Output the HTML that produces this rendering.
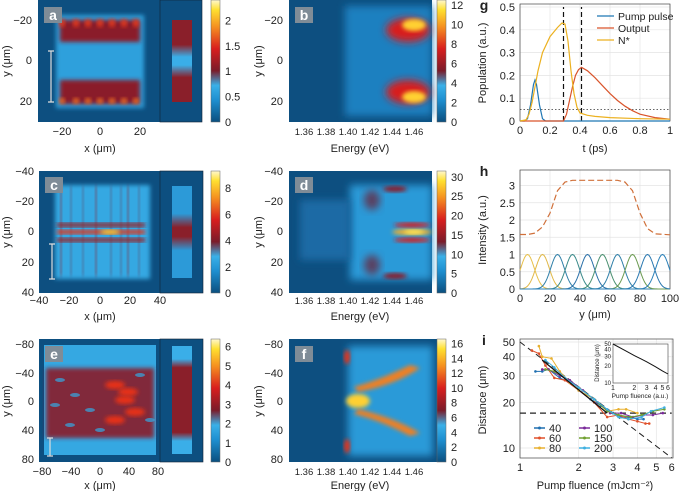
<!DOCTYPE html>
<html><head><meta charset="utf-8"><style>
body{margin:0;background:#fff}
svg{display:block;font-family:"Liberation Sans",sans-serif}
text{fill:#222}
</style></head><body>
<svg id="s" width="679" height="491" viewBox="0 0 679 491">
<defs>
<linearGradient id="cb" x1="0" y1="1" x2="0" y2="0">
<stop offset="0" stop-color="#0b4f7f"/><stop offset="0.18" stop-color="#1e8fd0"/><stop offset="0.3" stop-color="#3ab0e8"/>
<stop offset="0.42" stop-color="#7a1c2a"/><stop offset="0.6" stop-color="#d81e1e"/><stop offset="0.78" stop-color="#f59020"/>
<stop offset="0.92" stop-color="#ffe030"/><stop offset="1" stop-color="#fff8d0"/></linearGradient>
<linearGradient id="stripA" x1="0" y1="0" x2="0" y2="1"><stop offset="0" stop-color="#8a1f2a"/><stop offset="0.3" stop-color="#8a1f2a"/><stop offset="0.45" stop-color="#3aaee8"/><stop offset="0.55" stop-color="#3aaee8"/><stop offset="0.7" stop-color="#8a1f2a"/><stop offset="1" stop-color="#8a1f2a"/></linearGradient>
<linearGradient id="stripC" x1="0" y1="0" x2="0" y2="1"><stop offset="0" stop-color="#2c9ad8"/><stop offset="0.3" stop-color="#2c9ad8"/><stop offset="0.45" stop-color="#8a1f2a"/><stop offset="0.55" stop-color="#8a1f2a"/><stop offset="0.7" stop-color="#2c9ad8"/><stop offset="1" stop-color="#2c9ad8"/></linearGradient>
<linearGradient id="stripE" x1="0" y1="0" x2="0" y2="1"><stop offset="0" stop-color="#3aaee8"/><stop offset="0.12" stop-color="#3aaee8"/><stop offset="0.2" stop-color="#8a1f2a"/><stop offset="0.8" stop-color="#8a1f2a"/><stop offset="0.88" stop-color="#3aaee8"/><stop offset="1" stop-color="#3aaee8"/></linearGradient>
<filter id="bl" x="-20%" y="-20%" width="140%" height="140%"><feGaussianBlur stdDeviation="2"/></filter>
<filter id="bl4" x="-30%" y="-30%" width="160%" height="160%"><feGaussianBlur stdDeviation="4"/></filter>
</defs>
<g id="maps"></g><g id="gg"></g><g id="hh"></g><g id="ii"></g>
</svg>
<script>
// ---------- data for g ----------
const pumpT=[0,0.03,0.05,0.07,0.09,0.1,0.11,0.13,0.15,0.17,0.3,1];
const pumpV=[0,0,0.01,0.07,0.16,0.18,0.16,0.07,0.01,0,0,0];
const outT=[0,0.29,0.31,0.33,0.35,0.37,0.39,0.41,0.45,0.5,0.55,0.6,0.65,0.7,0.75,0.8,0.9,1];
const outV=[0,0,0.03,0.09,0.15,0.2,0.225,0.235,0.22,0.19,0.155,0.12,0.09,0.065,0.045,0.03,0.015,0.008];
const nT=[0,0.04,0.06,0.08,0.1,0.12,0.15,0.2,0.25,0.28,0.3,0.32,0.34,0.36,0.38,0.4,0.45,0.5,0.6,0.8,1];
const nV=[0,0.005,0.03,0.08,0.15,0.22,0.3,0.37,0.41,0.43,0.425,0.35,0.22,0.12,0.06,0.035,0.025,0.02,0.015,0.01,0.008];
const gXTicks=[0,0.2,0.4,0.6,0.8,1];
const gYTicks=[0,0.1,0.2,0.3,0.4,0.5];
// ---------- data for h ----------
const hCenters=[5,15,25,35,45,55,65,75,85,95];
const hPeaks=[1,1,1,1,1,1,1,1,1,1];
const hSumY=[0,5,10,15,20,25,30,35,65,70,75,80,85,90,100];
const hSumV=[1.58,1.58,1.62,1.8,2.2,2.85,3.1,3.15,3.15,3.1,2.85,2.2,1.75,1.6,1.57];
const hXTicks=[0,20,40,60,80,100];
const hYTicks=[0,0.5,1,1.5,2,2.5,3];
// ---------- data for i ----------
const iLabels=["40","60","80","100","150","200"];
const iF40=[1.2,1.3,1.4,1.6,1.8,2,2.3,2.6,3,3.3,3.6,4,4.3], iD40=[32,32,33,29,27,24,21,19,17,16,16,15.5,15.5];
const iF60=[1.15,1.25,1.35,1.5,1.7,2,2.4,2.8,3.2,3.6,4,4.4,4.6], iD60=[44,42,35,29,28,24,20,16,16.5,15.5,15,14.5,14.5];
const iF80=[1.25,1.3,1.45,1.6,1.8,2,2.4,2.8,3.2,3.5,4], iD80=[47,40,39,32,27,24,21,17.5,18,18,17];
const iF100=[1.3,1.4,1.6,1.8,2.1,2.5,2.9,3.3,3.8,4.3,4.8,5.4], iD100=[33,33,30,28,24,20,17,17,16,16.5,16.5,17];
const iF150=[1.35,1.5,1.7,2,2.4,2.8,3.2,3.7,4.2,4.8,5.5], iD150=[33,32,29,25,21,17.5,16.5,16,16.5,17.5,18];
const iF200=[1.35,1.5,1.7,2,2.4,2.8,3.2,3.6,4.2,4.7,5.5], iD200=[38,34,29,25,21,18,16,15.5,16,17.5,18.5];
const iFitF=[1.3,2.8], iFitD=[38,17];
const iXTicks=[1,2,3,4,5,6];
const iYTicks=[10,20,30,40,50];
const insetF=[1,1.5,2,2.5,3,4,5,6], insetD=[50,38,31,27,24,19.5,16.5,14.5];

const NS="http://www.w3.org/2000/svg";
function mk(p,tag,at,txt){const e=document.createElementNS(NS,tag);for(const k in at)e.setAttribute(k,at[k]);if(txt!==undefined)e.textContent=txt;p.appendChild(e);return e;}
function T(p,x,y,s,o){o=o||{};const e=mk(p,"text",{x:x,y:y,"font-size":o.fs||11,"text-anchor":o.a||"middle"},s);if(o.r)e.setAttribute("transform","rotate(-90 "+x+" "+y+")");if(o.it)e.setAttribute("font-style","italic");return e;}
const M=document.getElementById("maps");

function frame(x0,y0,x1,y1,name){const r=mk(M,"rect",{x:x0,y:y0,width:x1-x0,height:y1-y0,fill:"#0d4f80"});}
function cbar(x,y0,y1,ticks,vmax,name){const g=mk(M,"g",{});
 mk(g,"rect",{x:x,y:y0,width:9,height:y1-y0,fill:"url(#cb)",stroke:"#666","stroke-width":0.5});
 ticks.forEach(t=>{const y=y1-(y1-y0)*t/vmax;T(g,x+14,y+4,String(t),{a:"start"});});}
function plabel(x,y,s){const g=mk(M,"g",{});
 mk(g,"rect",{x:x,y:y,width:18,height:16,fill:"#7f8c97"});const t=T(g,x+9,y+13,s,{fs:14});t.setAttribute("font-weight","bold");t.style.fill="#fff";}
function axisTicks(list,pos,y,o){list.forEach((t,i)=>T(M,pos[i],y,t,o));}
const eT=["1.36","1.38","1.40","1.42","1.44","1.46"], eX=[304,326,348,370,392,414];
function eTicks(y){eT.forEach((t,i)=>T(M,eX[i],y,t,{fs:9.5}));}

// Panel a
frame(38,0,202,122,"map-a");
mk(M,"rect",{x:56,y:15,width:88,height:93,fill:"#2fa0dc",filter:"url(#bl)"});
mk(M,"rect",{x:60,y:20,width:80,height:22,fill:"#8a1f2a",filter:"url(#bl)"});
mk(M,"rect",{x:60,y:80,width:80,height:24,fill:"#8a1f2a",filter:"url(#bl)"});
[62,76,88,100,112,124,136].forEach(x=>{mk(M,"ellipse",{cx:x,cy:23,rx:3,ry:4,fill:"#e83a1a",filter:"url(#bl)"});mk(M,"ellipse",{cx:x,cy:101,rx:3,ry:3,fill:"#f07020",filter:"url(#bl)"});});
mk(M,"rect",{x:160,y:0,width:42,height:122,fill:"#0d4f80",stroke:"#123","stroke-width":0.6});
mk(M,"rect",{x:172,y:20,width:20,height:82,fill:"url(#stripA)"});
mk(M,"path",{d:"M48 51h6M51 51v51M48 102h6",stroke:"#ddd",fill:"none","stroke-width":1.2});
plabel(44,7,"a");
cbar(211,0,122,[0,0.5,1,1.5,2],2.4,"colorbar-a");
axisTicks(["−20","0","20"],[62,100,140],135,{});
[["−20",24],["0",64],["20",105]].forEach(a=>T(M,32,a[1],a[0],{a:"end"}));
T(M,100,152,"x (μm)",{});T(M,10,61,"y (μm)",{r:1});

// Panel b
frame(289,0,432,122,"map-b");
mk(M,"rect",{x:345,y:6,width:87,height:110,fill:"#1e80c0",filter:"url(#bl4)"});
mk(M,"ellipse",{cx:408,cy:30,rx:22,ry:12,fill:"#d81e1e",filter:"url(#bl4)"});
mk(M,"ellipse",{cx:408,cy:92,rx:22,ry:12,fill:"#d81e1e",filter:"url(#bl4)"});
mk(M,"ellipse",{cx:414,cy:25,rx:12,ry:6,fill:"#ffd030",filter:"url(#bl)"});
mk(M,"ellipse",{cx:414,cy:97,rx:12,ry:6,fill:"#ffd030",filter:"url(#bl)"});
plabel(295,7,"b");
cbar(437,0,122,[0,2,4,6,8,10,12],12.5,"colorbar-b");
[["−20",24],["0",64],["20",105]].forEach(a=>T(M,283,a[1],a[0],{a:"end"}));
eTicks(135);
T(M,360,152,"Energy (eV)",{});T(M,262,61,"y (μm)",{r:1});

// Panel c
frame(39,171,203,293,"map-c");
mk(M,"rect",{x:55,y:185,width:95,height:94,fill:"#35a8e2",filter:"url(#bl)"});
[60,70,82,95,110,120,127,138].forEach((x,i)=>mk(M,"rect",{x:x,y:186,width:2,height:90,fill:i%3==0?"#8a1f2a":"#5a4a70",opacity:0.7,filter:"url(#bl)"}));
[225,232,240].forEach((y,i)=>mk(M,"rect",{x:57,y:y-2,width:88,height:4,fill:i==1?"#e83018":"#9a1e22",filter:"url(#bl)"}));
mk(M,"ellipse",{cx:110,cy:232,rx:10,ry:2,fill:"#ffe030",filter:"url(#bl)"});
mk(M,"rect",{x:160,y:171,width:43,height:122,fill:"#0d4f80",stroke:"#123","stroke-width":0.6});
mk(M,"rect",{x:172,y:186,width:20,height:92,fill:"url(#stripC)"});
mk(M,"path",{d:"M49 244h6M52 244v35M49 279h6",stroke:"#ddd",fill:"none","stroke-width":1.2});
plabel(45,177,"c");
cbar(211,171,293,[0,2,4,6,8],9.3,"colorbar-c");
[["−40",175],["−20",205],["0",235],["20",266],["40",296]].forEach(a=>T(M,34,a[1],a[0],{a:"end"}));
axisTicks(["−40","−20","0","20","40"],[39,69,100,130,160],304,{});
T(M,100,320,"x (μm)",{});T(M,10,232,"y (μm)",{r:1});

// Panel d
frame(289,171,432,293,"map-d");
mk(M,"rect",{x:350,y:185,width:82,height:95,fill:"#2a9ad8",filter:"url(#bl4)"});
mk(M,"rect",{x:300,y:200,width:50,height:60,fill:"#1a6aa5",filter:"url(#bl4)"});
mk(M,"ellipse",{cx:395,cy:189,rx:12,ry:3,fill:"#8a1f2a",filter:"url(#bl)"});
mk(M,"ellipse",{cx:395,cy:276,rx:12,ry:3,fill:"#8a1f2a",filter:"url(#bl)"});
mk(M,"ellipse",{cx:372,cy:200,rx:8,ry:10,fill:"#5a4060",filter:"url(#bl4)"});
mk(M,"ellipse",{cx:372,cy:265,rx:8,ry:10,fill:"#5a4060",filter:"url(#bl4)"});
[225,240].forEach(y=>mk(M,"ellipse",{cx:412,cy:y,rx:18,ry:2.5,fill:"#d81e1e",filter:"url(#bl)"}));
mk(M,"ellipse",{cx:412,cy:232,rx:20,ry:3,fill:"#ffb020",filter:"url(#bl)"});
mk(M,"ellipse",{cx:414,cy:232,rx:10,ry:2,fill:"#fff060",filter:"url(#bl)"});
plabel(295,177,"d");
cbar(437,171,293,[0,5,10,15,20,25,30],31.5,"colorbar-d");
[["−40",175],["−20",205],["0",235],["20",266],["40",296]].forEach(a=>T(M,283,a[1],a[0],{a:"end"}));
eTicks(304);
T(M,360,320,"Energy (eV)",{});T(M,262,232,"y (μm)",{r:1});

// Panel e
frame(39,339,203,462,"map-e");
mk(M,"rect",{x:44,y:345,width:112,height:110,fill:"#35a8e2"});
mk(M,"rect",{x:46,y:368,width:108,height:70,fill:"#8a1f2a",opacity:0.9,filter:"url(#bl)"});
[[60,380],[75,395],[90,410],[70,425],[140,375],[150,420],[55,405],[100,430]].forEach(p=>mk(M,"ellipse",{cx:p[0],cy:p[1],rx:5,ry:2,fill:"#35a8e2",opacity:0.7}));
[[115,385],[125,400],[115,420],[135,412],[128,392]].forEach(p=>mk(M,"ellipse",{cx:p[0],cy:p[1],rx:10,ry:4,fill:"#e83018",filter:"url(#bl)"}));
mk(M,"rect",{x:160,y:339,width:43,height:123,fill:"#0d4f80",stroke:"#123","stroke-width":0.6});
mk(M,"rect",{x:172,y:346,width:20,height:108,fill:"url(#stripE)"});
mk(M,"path",{d:"M47 438h6M50 438v18M47 456h6",stroke:"#ddd",fill:"none","stroke-width":1.2});
plabel(45,346,"e");
cbar(211,339,462,[0,1,2,3,4,5,6],6.4,"colorbar-e");
[["−80",348],["−40",377],["0",405],["40",434],["80",463]].forEach(a=>T(M,34,a[1],a[0],{a:"end"}));
axisTicks(["−80","−40","0","40","80"],[42,71,100,129,158],475,{});
T(M,100,489,"x (μm)",{});T(M,10,401,"y (μm)",{r:1});

// Panel f
frame(289,339,437,462,"map-f");
mk(M,"rect",{x:348,y:346,width:85,height:110,fill:"#2a9ad8",filter:"url(#bl4)"});
mk(M,"ellipse",{cx:347,cy:357,rx:3,ry:7,fill:"#e83018",filter:"url(#bl)"});
mk(M,"ellipse",{cx:347,cy:446,rx:3,ry:7,fill:"#e83018",filter:"url(#bl)"});
mk(M,"ellipse",{cx:358,cy:401,rx:12,ry:7,fill:"#ffd030",filter:"url(#bl)"});
mk(M,"path",{d:"M354 387 Q380 380 410 365 L420 368 Q395 385 358 392Z",fill:"#f08020",filter:"url(#bl)"});
mk(M,"path",{d:"M354 414 Q380 420 410 436 L420 433 Q395 418 358 409Z",fill:"#f08020",filter:"url(#bl)"});
plabel(295,346,"f");
cbar(437,339,462,[0,2,4,6,8,10,12,14,16],16.6,"colorbar-f");
[["−80",348],["−40",377],["0",405],["40",434],["80",463]].forEach(a=>T(M,283,a[1],a[0],{a:"end"}));
eTicks(475);
T(M,360,489,"Energy (eV)",{});T(M,262,401,"y (μm)",{r:1});

// ---------- g ----------
const G=document.getElementById("gg");
const gx=t=>520+150*t, gy=v=>121-228*v;
function gridAx(P,xs,ys,X,Y,x0,x1,y0,y1){xs.forEach(v=>mk(P,"line",{x1:X(v),x2:X(v),y1:y0,y2:y1,stroke:"#e4e4e4","stroke-width":0.7}));ys.forEach(v=>mk(P,"line",{x1:x0,x2:x1,y1:Y(v),y2:Y(v),stroke:"#e4e4e4","stroke-width":0.7}));mk(P,"rect",{x:x0,y:y1,width:x1-x0,height:y0-y1,fill:"none",stroke:"#444","stroke-width":0.7});}
gridAx(G,gXTicks,gYTicks,gx,gy,520,670,121,4);
gXTicks.forEach(t=>T(G,gx(t),134,String(t)));
gYTicks.forEach(t=>T(G,515,gy(t)+4,String(t),{a:"end"}));
T(G,595,152,"t (ps)");T(G,486,63,"Population (a.u.)",{r:1});
function line(P,xs,ys,X,Y,col,name,extra){const d=xs.map((v,i)=>(i?"L":"M")+X(v).toFixed(1)+" "+Y(ys[i]).toFixed(1)).join("");const e=mk(P,"path",Object.assign({d:d,fill:"none",stroke:col,"stroke-width":1.2},extra||{}));return e;}
line(G,[0,1],[0.05,0.05],gx,gy,"#333","threshold-line",{"stroke-dasharray":"1.5 2","stroke-width":0.8});
line(G,[0.29,0.29],[0,0.5],gx,gy,"#111","dash-line-1",{"stroke-dasharray":"5 3"});
line(G,[0.41,0.41],[0,0.5],gx,gy,"#111","dash-line-2",{"stroke-dasharray":"5 3"});
line(G,pumpT,pumpV,gx,gy,"#1f77b4","pump-pulse-line");
line(G,outT,outV,gx,gy,"#d9542b","output-line");
line(G,nT,nV,gx,gy,"#ecb120","n-star-line");
[["Pump pulse","#1f77b4",16],["Output","#d9542b",28],["N*","#ecb120",40]].forEach(l=>{mk(G,"line",{x1:597,x2:614,y1:l[2],y2:l[2],stroke:l[1],"stroke-width":1.2});T(G,618,l[2]+4,l[0],{a:"start",fs:10.5});});
T(G,484,10,"g",{fs:14}).setAttribute("font-weight","bold");

// ---------- h ----------
const H=document.getElementById("hh");
const hx=v=>520+1.5*v, hy=v=>289-34.5*v;
gridAx(H,hXTicks,hYTicks,hx,hy,520,670,289,170);
hXTicks.forEach(t=>T(H,hx(t),302,String(t)));
hYTicks.forEach(t=>T(H,515,hy(t)+4,String(t),{a:"end"}));
T(H,595,318,"y (μm)");T(H,486,230,"Intensity (a.u.)",{r:1});
const hCols=["#e8c04a","#e0b848","#2f7fa8","#3a8a8a","#2a70a8","#4a9070","#2f7fa8","#6a9a50","#2a78b0","#2a80b8"];
hCenters.forEach((c,k)=>{const xs=[],ys=[];for(let y=0;y<=100;y+=1){xs.push(y);const d=(y-c)/4.5;ys.push(hPeaks[k]*Math.exp(-d*d/2));}line(H,xs,ys,hx,hy,hCols[k],"mode-"+(k+1),{"stroke-width":1});});
line(H,hSumY,hSumV,hx,hy,"#d0703a","sum-intensity-line",{"stroke-dasharray":"6 3"});
T(H,484,176,"h",{fs:14}).setAttribute("font-weight","bold");

// ---------- i ----------
const I=document.getElementById("ii");
const ix=f=>520+195*Math.log10(f), iy=d=>448-151.6*(Math.log10(d)-1);
gridAx(I,iXTicks,iYTicks,ix,iy,520,673,458,339);
iXTicks.forEach(t=>T(I,ix(t),471,String(t)));
iYTicks.forEach(t=>T(I,515,iy(t)+4,String(t),{a:"end"}));
T(I,595,489,"Pump fluence (mJcm⁻²)");T(I,486,400,"Distance (μm)",{r:1});
line(I,[1,6],[50,8.6],ix,iy,"#222","power-law-dashed",{"stroke-dasharray":"6 4","stroke-width":1});
line(I,[1,6],[17,17],ix,iy,"#222","saturation-dashed",{"stroke-dasharray":"6 4","stroke-width":1.2});
const iCols=["#1f6fb0","#e0502a","#e8b030","#7a2a9a","#70a030","#40b0e0"];
const iF=[iF40,iF60,iF80,iF100,iF150,iF200], iD=[iD40,iD60,iD80,iD100,iD150,iD200];
iF.forEach((fs,k)=>{line(I,fs,iD[k],ix,iy,iCols[k],"series-"+iLabels[k],{"stroke-width":1});fs.forEach((f,j)=>{const c=mk(I,"circle",{cx:ix(f),cy:iy(iD[k][j]),r:1.3,fill:iCols[k]});});});
line(I,iFitF,iFitD,ix,iy,"#111","fit-line",{"stroke-width":1.2});
iLabels.forEach((l,k)=>{const cx=k<3?534:579, cy=428+(k%3)*10;mk(I,"line",{x1:cx,x2:cx+11,y1:cy,y2:cy,stroke:iCols[k],"stroke-width":1.5});mk(I,"circle",{cx:cx+5.5,cy:cy,r:1.5,fill:iCols[k]});T(I,cx+15,cy+4,l,{a:"start",fs:11});});
const nx=f=>613+55*Math.log10(f)/Math.log10(6), ny=d=>383-39*(Math.log10(d)-1)/Math.log10(5);
mk(I,"rect",{x:613,y:344,width:55,height:39,fill:"#fff",stroke:"#444","stroke-width":0.6});
line(I,insetF,insetD,nx,ny,"#111","inset-curve",{"stroke-width":1});
[[1,"1"],[2,"2"],[3,"3"],[4,"4"],[5,"5"],[6,"6"]].forEach(a=>T(I,nx(a[0]),390,a[1],{fs:7}));
[[10,"10"],[20,"20"],[30,"30"],[40,"40"],[50,"50"]].forEach(a=>T(I,611,ny(a[0])+2,a[1],{a:"end",fs:6}));
T(I,640,398,"Pump fluence (a.u.)",{fs:6.5});T(I,599,363,"Distance (μm)",{r:1,fs:6});
T(I,484,345,"i",{fs:14}).setAttribute("font-weight","bold");
</script>
</body></html>
